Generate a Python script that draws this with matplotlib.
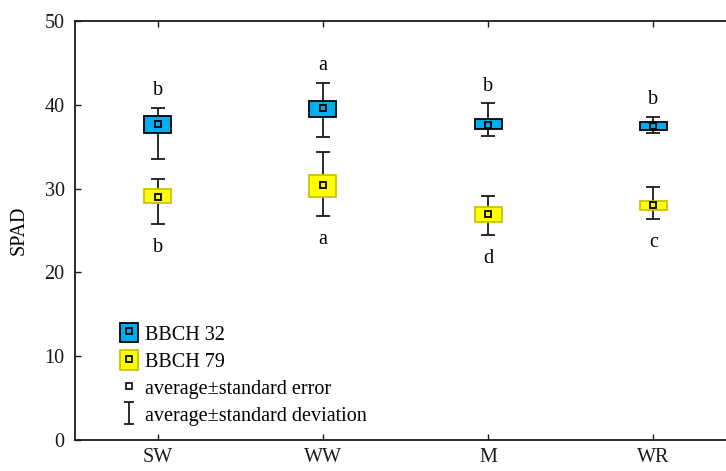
import matplotlib
matplotlib.use('Agg')
import matplotlib.pyplot as plt
from matplotlib.patches import Patch
from matplotlib.lines import Line2D
from matplotlib.path import Path

plt.rcParams['font.family'] = ['Liberation Serif', 'DejaVu Serif']

# Dane (SPAD)
crops = ['SW', 'WW', 'M', 'WR']
stages = ['BBCH 32', 'BBCH 79']

mean_32 = [37.65, 39.58, 37.63, 37.47]
se_lo_32 = [36.60, 38.58, 37.08, 37.03]
se_hi_32 = [38.66, 40.42, 38.27, 37.91]
sd_lo_32 = [33.53, 36.12, 36.28, 36.67]
sd_hi_32 = [39.65, 42.64, 40.18, 38.58]
let_32 = ['b', 'a', 'b', 'b']

mean_79 = [28.96, 30.43, 26.97, 28.04]
se_lo_79 = [28.25, 29.03, 26.01, 27.45]
se_hi_79 = [29.92, 31.62, 27.77, 28.56]
sd_lo_79 = [25.81, 26.73, 24.43, 26.34]
sd_hi_79 = [31.18, 34.37, 29.12, 30.16]
let_79 = ['b', 'a', 'd', 'c']

blue = '#00aeef'
yellow = '#ffff00'
fs = 14.5

fig = plt.figure(figsize=(7.26, 4.71), dpi=100)
# os prawa wychodzi poza obrazek (jak w oryginale)
ax = fig.add_axes([75 / 726, 31 / 471, 661 / 726, 419 / 471])

x = list(range(len(crops)))
series = [
    (mean_32, se_lo_32, se_hi_32, sd_lo_32, sd_hi_32, blue, 'black'),
    (mean_79, se_lo_79, se_hi_79, sd_lo_79, sd_hi_79, yellow, '#c8c400'),
]
for mean, slo, shi, dlo, dhi, fc, ec in series:
    yerr = [[m - l for m, l in zip(mean, dlo)], [h - m for m, h in zip(mean, dhi)]]
    ax.errorbar(x, mean, yerr=yerr, fmt='none', ecolor='#1a1a1a',
                elinewidth=1.3, capsize=4.9, capthick=1.3, zorder=1)
    ax.bar(x, [h - l for h, l in zip(shi, slo)], bottom=slo, width=0.163,
           color=fc, edgecolor=ec, linewidth=1.3, zorder=2)
    ax.plot(x, mean, 's', ms=4.5, mfc='none', mec='black', mew=1.3, zorder=3)

for i in x:
    ax.text(i, sd_hi_32[i] + 2.0, let_32[i], ha='center', va='center', fontsize=fs)
    ax.text(i, sd_lo_79[i] - 2.8, let_79[i], ha='center', va='center', fontsize=fs)

ax.set_xlim(-0.5, 3.5)
ax.set_ylim(0, 50)
ax.set_xticks(x)
ax.set_xticklabels(crops)
ax.set_yticks(range(0, 51, 10))
ax.tick_params(direction='in', length=4, width=1, labelsize=fs, colors='#1a1a1a')
ax.tick_params(axis='x', top=True, pad=6)
ax.tick_params(axis='y', pad=7.5)
for s in ax.spines.values():
    s.set_linewidth(1.3)
    s.set_color('#1a1a1a')

ax.set_ylabel('SPAD', fontsize=fs)
ax.yaxis.set_label_coords(-0.07, 0.5)

# legenda
sd_marker = Path([(-0.41, 1), (0.41, 1), (0, 1), (0, -1), (-0.41, -1), (0.41, -1)],
                 [Path.MOVETO, Path.LINETO, Path.MOVETO, Path.LINETO, Path.MOVETO, Path.LINETO])
handles = [
    (Patch(fc=blue, ec='black', lw=1.3),
     Line2D([], [], ls='none', marker='s', ms=4.5, mfc='none', mec='black', mew=1.3)),
    (Patch(fc=yellow, ec='#c8c400', lw=1.3),
     Line2D([], [], ls='none', marker='s', ms=4.5, mfc='none', mec='black', mew=1.3)),
    Line2D([], [], ls='none', marker='s', ms=4.5, mfc='none', mec='#1a1a1a', mew=1.3),
    Line2D([], [], ls='none', marker=sd_marker, ms=16, mfc='none', mec='#1a1a1a', mew=1.3),
]
labels = stages + ['average\u00b1standard error', 'average\u00b1standard deviation']
ax.legend(handles, labels, loc='upper left', bbox_to_anchor=(0.068, 0.279),
          frameon=False, fontsize=fs, borderpad=0, borderaxespad=0,
          handlelength=0.9, handleheight=1.1, handletextpad=0.35,
          labelspacing=0.28, numpoints=1)

plt.savefig('out.png', dpi=100)
